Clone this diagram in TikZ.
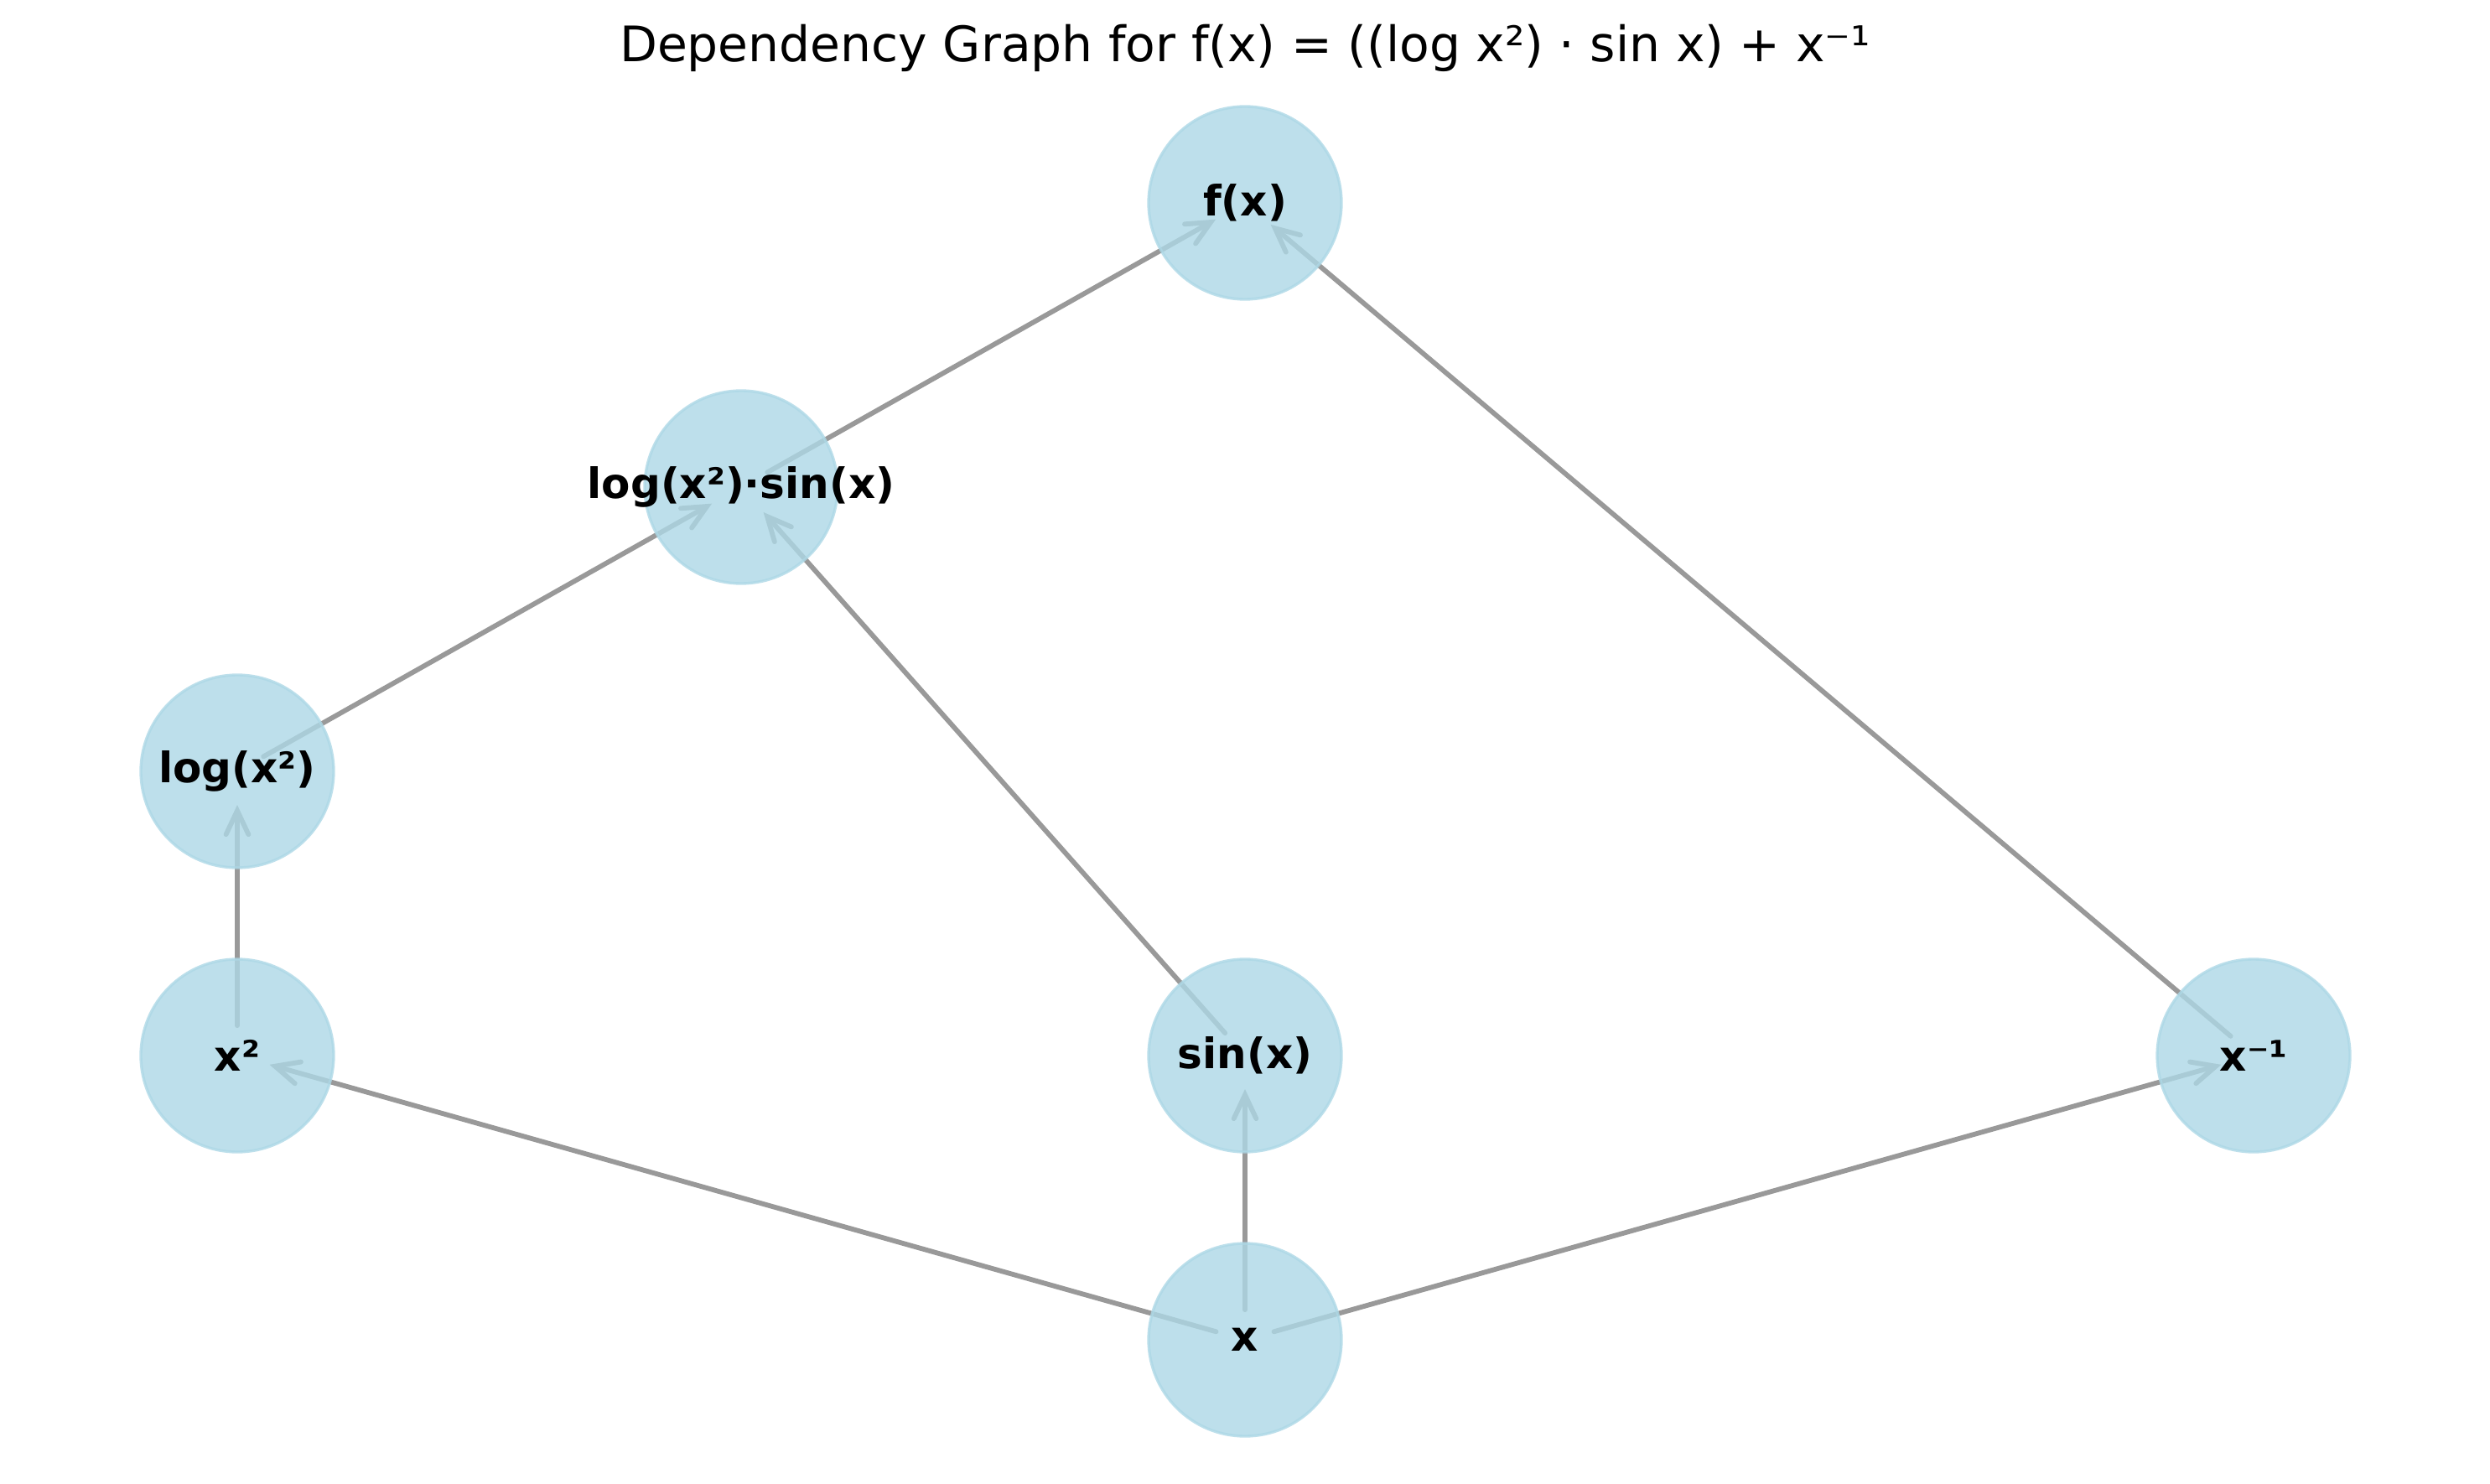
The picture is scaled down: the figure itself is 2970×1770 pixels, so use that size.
\documentclass[tikz,border=0pt]{standalone}
\usepackage{fontspec}
\setmainfont{DejaVu Sans}
\usetikzlibrary{arrows.meta,calc}
\pgfdeclarelayer{background}
\pgfdeclarelayer{bottom}
\pgfsetlayers{bottom,background,main}
\definecolor{nodeblue}{HTML}{ADD8E6}
\definecolor{edgegray}{RGB}{153,153,153}
\begin{document}
\begin{tikzpicture}[x=0.24pt,y=-0.24pt,
  vertex/.style={circle, minimum size=55.2pt, inner sep=0pt, fill=nodeblue, draw=nodeblue,
    fill opacity=0.8, draw opacity=0.8, text opacity=1, line width=0.8pt,
    font=\bfseries\fontsize{12}{14}\selectfont},
  conn/.style={draw=edgegray, line width=1.4pt, line cap=round,
    -{Straight Barb[length=6.8pt,width=6.4pt,line cap=round]}},
  titletext/.style={font=\fontsize{14}{17}\selectfont, inner sep=0pt}]
\useasboundingbox (0,0) rectangle (2970,1770);
\begin{pgfonlayer}{bottom}
\fill[white] (0,0) rectangle (2970,1770);
\end{pgfonlayer}
\node[titletext] (title) at (1485,57) {Dependency Graph for f(x) = ((log x²) · sin x) + x⁻¹};
\node[vertex] (f) at (1485,242) {\makebox[0pt]{f(x)}};
\node[vertex] (ls) at (884,581) {\makebox[0pt]{log(x²)·sin(x)}};
\node[vertex] (lg) at (283,920) {\makebox[0pt]{log(x²)}};
\node[vertex] (xsq) at (283,1259) {\makebox[0pt]{x²}};
\node[vertex] (sinx) at (1485,1259) {\makebox[0pt]{sin(x)}};
\node[vertex] (xinv) at (2688,1259) {\makebox[0pt]{x⁻¹}};
\node[vertex] (x) at (1485,1598) {\makebox[0pt]{x}};
\begin{pgfonlayer}{background}
\foreach \a/\b in {x/xsq, x/sinx, x/xinv, xsq/lg, lg/ls, sinx/ls, ls/f, xinv/f}
  \draw[conn] ($(\a)!8.6pt!(\b)$) -- ($(\b)!9.6pt!(\a)$);
\end{pgfonlayer}
\end{tikzpicture}
\end{document}
